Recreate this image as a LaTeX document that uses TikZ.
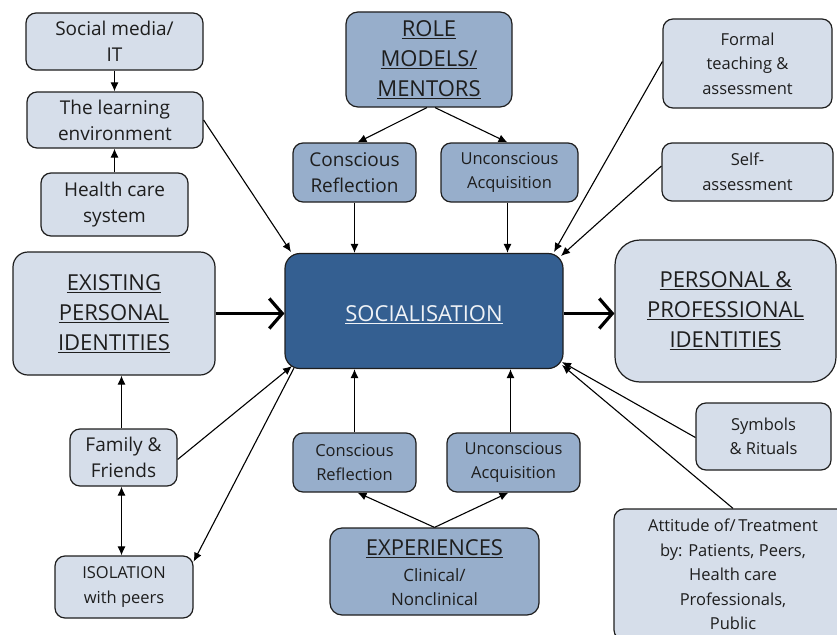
\documentclass[tikz,border=0pt]{standalone}
\usepackage{fontspec}
\setmainfont{Open Sans}
\usetikzlibrary{arrows.meta,calc}
\definecolor{lightc}{RGB}{214,222,234}
\definecolor{midc}{RGB}{151,174,203}
\definecolor{socc}{RGB}{52,95,145}
\definecolor{edgec}{RGB}{30,30,30}
\tikzset{
  bx/.style={draw=edgec, line width=1.2pt, rounded corners=10pt, align=center, text=edgec, inner sep=2pt},
  lite/.style={bx, fill=lightc},
  medb/.style={bx, fill=midc},
  fbig/.style={font=\fontsize{22}{30}\selectfont},
  fmid/.style={font=\fontsize{19}{26}\selectfont},
  fsmall/.style={font=\fontsize{16.5}{24.5}\selectfont},
  arr/.style={-{Latex[length=9pt,width=8pt]}, line width=1.1pt, draw=black},
  darr/.style={{Latex[length=9pt,width=8pt]}-{Latex[length=9pt,width=8pt]}, line width=1.1pt, draw=black},
  bigarr/.style={-{Straight Barb[length=13pt,width=30pt]}, line width=3.2pt, draw=black},
}
\begin{document}
\begin{tikzpicture}[x=1pt,y=-1pt]
\useasboundingbox (0,0) rectangle (837,634);
\clip (0,0) rectangle (837,634);
% left column
\node[lite,fmid,minimum width=177pt,minimum height=57pt] (social) at (114.5,41.5) {Social media/\\IT};
\node[lite,fmid,minimum width=176pt,minimum height=56pt] (learn) at (115,120) {The learning\\environment};
\node[lite,fmid,minimum width=147pt,minimum height=63pt] (health) at (114.5,204.5) {Health care\\system};
\node[lite,fbig,minimum width=202pt,minimum height=123pt,rounded corners=15pt] (exist) at (114,313.5) {\underline{EXISTING}\\\underline{PERSONAL}\\\underline{IDENTITIES}};
\node[lite,fmid,minimum width=107pt,minimum height=57pt] (family) at (123.5,457.5) {Family \&\\Friends};
\node[lite,fsmall,minimum width=138pt,minimum height=62pt] (iso) at (124,587) {ISOLATION\\with peers};
% centre column
\node[medb,fbig,minimum width=166pt,minimum height=95pt,rounded corners=12pt] (role) at (429,59.5) {\underline{ROLE}\\\underline{MODELS/}\\\underline{MENTORS}};
\node[medb,fmid,minimum width=123pt,minimum height=59pt] (crefT) at (354.5,172.5) {Conscious\\Reflection};
\node[medb,fsmall,minimum width=137pt,minimum height=59pt] (uacqT) at (509.5,172.5) {Unconscious\\Acquisition};
\node[bx,fill=socc,text=white!92!socc,fbig,minimum width=278pt,minimum height=115pt,rounded corners=15pt] (soc) at (424,311) {\raisebox{-4pt}[\height][\depth]{\underline{SOCIALISATION}}};
\node[medb,fsmall,minimum width=123pt,minimum height=59pt] (crefB) at (354.5,462.5) {Conscious\\Reflection};
\node[medb,fsmall,minimum width=133pt,minimum height=59pt] (uacqB) at (513.5,462.5) {Unconscious\\Acquisition};
\node[medb,font=\fontsize{17}{24}\selectfont,minimum width=209pt,minimum height=87pt,rounded corners=12pt] (exp) at (434.5,571.5) {\raisebox{-2pt}[\height][\depth]{\fontsize{22}{24}\selectfont\underline{EXPERIENCES}}\\[4pt]Clinical/\\Nonclinical};
% right column
\node[lite,fsmall,minimum width=169pt,minimum height=89pt] (formal) at (747.5,63.5) {Formal\\teaching \&\\assessment};
\node[lite,fsmall,minimum width=171pt,minimum height=58pt] (self) at (747.5,172) {Self-\\assessment};
\node[lite,fbig,minimum width=221pt,minimum height=142pt,rounded corners=25pt] (pers) at (725.5,311) {\underline{PERSONAL \&}\\\underline{PROFESSIONAL}\\\underline{IDENTITIES}};
\node[lite,fsmall,minimum width=135pt,minimum height=67pt] (symb) at (763.5,436.5) {Symbols\\\& Rituals};
\node[lite,fsmall,minimum width=238pt,minimum height=131pt] (att) at (733,574.5) {Attitude of/\,Treatment\\by: Patients, Peers,\\Health care\\Professionals,\\Public};
% corner coordinates on SOCIALISATION
\coordinate (socNW) at (291,252);
\coordinate (socNE1) at (554,252);
\coordinate (socNE2) at (561,256);
\coordinate (socSW1) at (292,366);
\coordinate (socSW2) at (294,368);
\coordinate (socSE1) at (562,362);
\coordinate (socSE2) at (562,365);
% connectors
\draw[arr] (social.south) -- (learn.north -| social.south);
\draw[arr] (health.north) -- (learn.south -| health.north);
\draw[arr] (learn.east) -- (socNW);
\draw[arr] ([xshift=-2pt]role.south) -- ([xshift=3pt]crefT.north);
\draw[arr] ([xshift=6pt]role.south) -- ([xshift=-2pt]uacqT.north);
\draw[arr] (crefT.south) -- (crefT.south |- soc.north);
\draw[arr] ([xshift=-2pt]uacqT.south) -- ([xshift=-2pt]uacqT.south |- soc.north);
\draw[arr] ([yshift=2pt]formal.west) -- (socNE1);
\draw[arr] ([yshift=6pt]self.west) -- (socNE2);
\draw[bigarr] (exist.east) -- (exist.east -| soc.west);
\draw[bigarr] (soc.east |- exist.east) -- (exist.east -| pers.west);
\draw[arr] ([xshift=-2pt]family.north) -- ([xshift=-2pt]family.north |- exist.south);
\draw[darr] ([xshift=-2pt]family.south) -- ([xshift=-2pt]family.south |- iso.north);
\draw[arr] ([yshift=-2pt]family.east) -- (socSW1);
\draw[arr] (socSW2) -- (iso.20);
\draw[arr] (crefB.north) -- (crefB.north |- soc.south);
\draw[arr] ([xshift=-3pt]uacqB.north) -- ([xshift=-3pt]uacqB.north |- soc.south);
\draw[arr] (exp.north) -- ([xshift=3pt]crefB.south);
\draw[arr] (exp.north) -- ([xshift=-5pt]uacqB.south);
\draw[arr] ([yshift=-1pt]symb.west) -- (socSE1);
\draw[arr] (att.north) -- (socSE2);
\end{tikzpicture}
\end{document}
